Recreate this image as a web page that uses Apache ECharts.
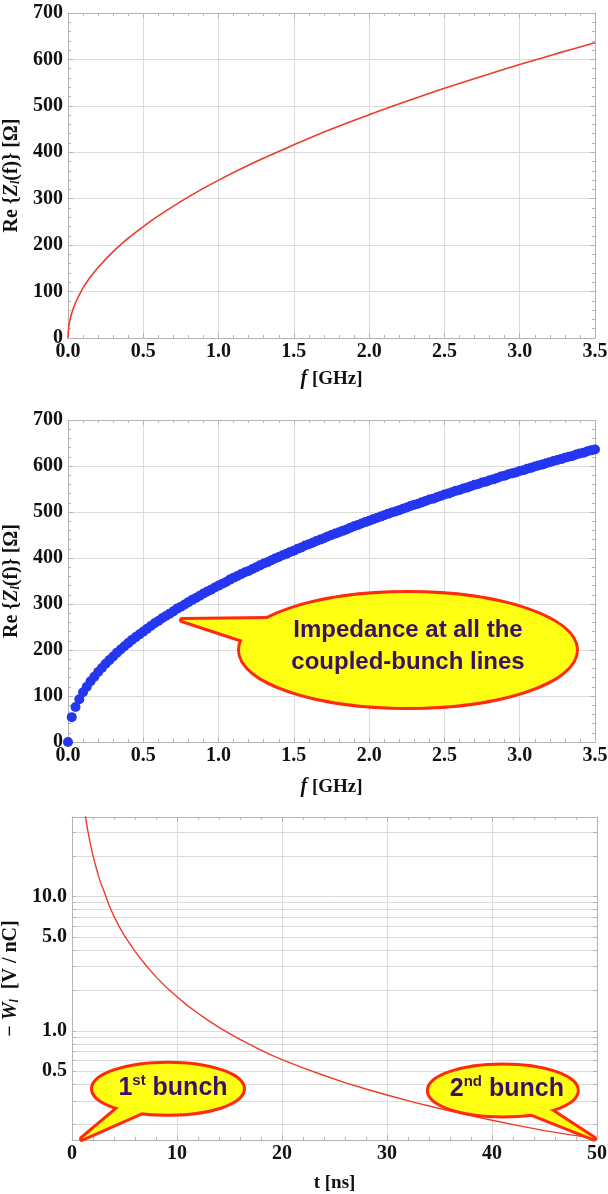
<!DOCTYPE html>
<html>
<head>
<meta charset="utf-8">
<script src="https://cdn.jsdelivr.net/npm/echarts@6/dist/echarts.min.js"></script>
<style>
  html, body { margin: 0; padding: 0; background: #ffffff; }
  #chart { width: 608px; height: 1194px; }
</style>
</head>
<body>
<div id="chart"></div>
<script>
// Resistive-wall impedance, continuous curve: frequency [GHz] and Re{Z_l} [Ohm]
const curveFreqGHz = [0, 0.005, 0.01, 0.025, 0.05, 0.1, 0.15, 0.2, 0.3, 0.4, 0.5, 0.6, 0.8, 1.0,
  1.25, 1.5, 1.75, 2.0, 2.25, 2.5, 2.75, 3.0, 3.25, 3.5];
const curveReZ = [0, 24, 34, 54, 76, 108, 132, 152, 186, 215, 240, 263, 304, 340,
  380, 416, 450, 481, 510, 538, 564, 589, 613, 636];

// Impedance sampled at the coupled-bunch lines
const lineFreqGHz = [
  0, 0.025, 0.05, 0.075, 0.1, 0.125, 0.15, 0.175, 0.2, 0.225,
  0.25, 0.275, 0.3, 0.325, 0.35, 0.375, 0.4, 0.425, 0.45, 0.475,
  0.5, 0.525, 0.55, 0.575, 0.6, 0.625, 0.65, 0.675, 0.7, 0.725,
  0.75, 0.775, 0.8, 0.825, 0.85, 0.875, 0.9, 0.925, 0.95, 0.975,
  1.0, 1.025, 1.05, 1.075, 1.1, 1.125, 1.15, 1.175, 1.2, 1.225,
  1.25, 1.275, 1.3, 1.325, 1.35, 1.375, 1.4, 1.425, 1.45, 1.475,
  1.5, 1.525, 1.55, 1.575, 1.6, 1.625, 1.65, 1.675, 1.7, 1.725,
  1.75, 1.775, 1.8, 1.825, 1.85, 1.875, 1.9, 1.925, 1.95, 1.975,
  2.0, 2.025, 2.05, 2.075, 2.1, 2.125, 2.15, 2.175, 2.2, 2.225,
  2.25, 2.275, 2.3, 2.325, 2.35, 2.375, 2.4, 2.425, 2.45, 2.475,
  2.5, 2.525, 2.55, 2.575, 2.6, 2.625, 2.65, 2.675, 2.7, 2.725,
  2.75, 2.775, 2.8, 2.825, 2.85, 2.875, 2.9, 2.925, 2.95, 2.975,
  3.0, 3.025, 3.05, 3.075, 3.1, 3.125, 3.15, 3.175, 3.2, 3.225,
  3.25, 3.275, 3.3, 3.325, 3.35, 3.375, 3.4, 3.425, 3.45, 3.475,
  3.5];
const lineReZ = [
  0, 54, 76, 93, 108, 120, 132, 142, 152, 161,
  170, 178, 186, 194, 201, 208, 215, 222, 228, 234,
  240, 246, 252, 258, 263, 269, 274, 279, 284, 290,
  294, 299, 304, 309, 313, 318, 323, 327, 331, 336,
  340, 344, 348, 353, 357, 361, 365, 369, 372, 376,
  380, 384, 388, 391, 395, 399, 402, 406, 409, 413,
  416, 420, 423, 427, 430, 433, 437, 440, 443, 447,
  450, 453, 456, 459, 462, 466, 469, 472, 475, 478,
  481, 484, 487, 490, 493, 496, 499, 501, 504, 507,
  510, 513, 516, 518, 521, 524, 527, 529, 532, 535,
  538, 540, 543, 546, 548, 551, 553, 556, 559, 561,
  564, 566, 569, 571, 574, 577, 579, 582, 584, 586,
  589, 591, 594, 596, 599, 601, 603, 606, 608, 611,
  613, 615, 618, 620, 622, 625, 627, 629, 632, 634,
  636];

// Wake potential -W_l [V/nC] against time [ns]
const wakeTimeNs = [1.2, 1.4, 1.6, 1.8, 2, 2.25, 2.5, 2.75, 3, 3.5, 4, 4.5, 5, 5.5, 6, 7, 8, 9, 10,
  11, 12, 13, 14, 15, 16, 17, 18, 19, 20, 22, 24, 26, 28, 30, 32.5, 35, 37.5, 40, 42.5, 45, 47.5, 50];
const wakeVperNC = [43.3, 34.4, 28.1, 23.6, 20.1, 16.9, 14.4, 12.5, 11.2, 8.7, 7.1, 5.96, 5.09, 4.45, 3.90, 3.10, 2.52, 2.10, 1.79,
  1.54, 1.35, 1.19, 1.06, 0.953, 0.862, 0.785, 0.718, 0.660, 0.61, 0.53, 0.465, 0.412, 0.369, 0.333, 0.295, 0.264, 0.238, 0.216, 0.197, 0.181, 0.168, 0.158];

// Log-axis grid values and labelled values
const wakeGridValues = [0.2, 0.3, 0.4, 0.5, 0.6, 0.7, 0.8, 0.9, 1, 2, 3, 4, 5, 6, 7, 8, 9, 10, 20, 30];
const wakeLabelValues = [0.5, 1, 5, 10];

// Callout texts
const calloutImpedance = 'Impedance at all the\ncoupled-bunch lines';
const calloutFirst = ['1', 'st', ' bunch'];
const calloutSecond = ['2', 'nd', ' bunch'];

const SERIF = '"Liberation Serif", "DejaVu Serif", serif';
const SANS = '"Liberation Sans", Arial, sans-serif';
const frameColor = '#b4b4b4';
const gridColor = '#dcdcdc';
const labelStyle = { color: '#111', fontFamily: SERIF, fontWeight: 'bold', fontSize: 20 };

const chart = echarts.init(document.getElementById('chart'), null, { renderer: 'canvas' });

function zip(xs, ys) { return xs.map((x, i) => [x, ys[i]]); }

function bottomAxis(gridIndex, min, max, interval, fmt, nameRich, name, nameGap) {
  return {
    type: 'value', gridIndex, position: 'bottom', min, max, interval,
    name, nameLocation: 'middle', nameGap,
    nameTextStyle: { ...labelStyle, fontSize: 19, rich: nameRich },
    axisLine: { show: true, onZero: false, lineStyle: { color: frameColor, width: 1 } },
    axisTick: { show: true, inside: true, length: 5, lineStyle: { color: frameColor } },
    minorTick: { show: true, splitNumber: 5, length: 3, lineStyle: { color: frameColor } },
    axisLabel: { ...labelStyle, margin: 4, formatter: fmt, showMinLabel: true, showMaxLabel: true },
    splitLine: { show: true, lineStyle: { color: gridColor, width: 1 } },
    minorSplitLine: { show: false }
  };
}
function topAxis(gridIndex, min, max, interval) {
  return {
    type: 'value', gridIndex, position: 'top', min, max, interval,
    axisLine: { show: true, onZero: false, lineStyle: { color: frameColor, width: 1 } },
    axisTick: { show: true, inside: true, length: 5, lineStyle: { color: frameColor } },
    minorTick: { show: true, splitNumber: 5, length: 3, lineStyle: { color: frameColor } },
    axisLabel: { show: false }, splitLine: { show: false }
  };
}
function leftAxis(gridIndex, name, nameRich, nameGap) {
  return {
    type: 'value', gridIndex, position: 'left', min: 0, max: 700, interval: 100,
    name, nameLocation: 'middle', nameGap, nameRotate: 90,
    nameTextStyle: { ...labelStyle, fontSize: 20, rich: nameRich },
    axisLine: { show: true, onZero: false, lineStyle: { color: frameColor, width: 1 } },
    axisTick: { show: true, inside: true, length: 5, lineStyle: { color: frameColor } },
    minorTick: { show: true, splitNumber: 5, length: 3, lineStyle: { color: frameColor } },
    axisLabel: { ...labelStyle, margin: 5, showMinLabel: true, showMaxLabel: true },
    splitLine: { show: true, lineStyle: { color: gridColor, width: 1 } }
  };
}
function rightAxis(gridIndex) {
  return {
    type: 'value', gridIndex, position: 'right', min: 0, max: 700, interval: 100,
    axisLine: { show: true, onZero: false, lineStyle: { color: frameColor, width: 1 } },
    axisTick: { show: true, inside: true, length: 5, lineStyle: { color: frameColor } },
    minorTick: { show: true, splitNumber: 5, length: 3, lineStyle: { color: frameColor } },
    axisLabel: { show: false }, splitLine: { show: false }
  };
}

// Plain text takes the axis-name style; only italic and subscript parts are tokens
const reZName = 'Re {{i|Z}{s|l}(f)} [Ω]';
const nameRich = {
  i: { fontFamily: SERIF, fontWeight: 'bold', fontStyle: 'italic', fontSize: 20, color: '#111' },
  s: { fontFamily: SERIF, fontWeight: 'bold', fontStyle: 'italic', fontSize: 12, color: '#111', verticalAlign: 'bottom', padding: [6, 0, 0, 0] }
};
const freqName = '{i|f} [GHz]';
const timeName = 't [ns]';
const wakeName = '− {i|W}{s|l}  [V / nC]';

const freqFmt = v => v.toFixed(1);

const option = {
  animation: false,
  backgroundColor: '#ffffff',
  grid: [
    { left: 68, top: 13, width: 527, height: 325, outerBoundsMode: 'none' },
    { left: 68, top: 420, width: 527, height: 322, outerBoundsMode: 'none' },
    { left: 72, top: 817, width: 525, height: 323, outerBoundsMode: 'none' }
  ],
  xAxis: [
    bottomAxis(0, 0, 3.5, 0.5, freqFmt, nameRich, freqName, 31),
    topAxis(0, 0, 3.5, 0.5),
    bottomAxis(1, 0, 3.5, 0.5, freqFmt, nameRich, freqName, 35),
    topAxis(1, 0, 3.5, 0.5),
    bottomAxis(2, 0, 50, 10, v => String(v), nameRich, timeName, 34),
    topAxis(2, 0, 50, 10)
  ],
  yAxis: [
    leftAxis(0, reZName, nameRich, 40),
    rightAxis(0),
    leftAxis(1, reZName, nameRich, 40),
    rightAxis(1),
    {
      type: 'log', logBase: 10, gridIndex: 2, position: 'left', min: 0.154, max: 39,
      name: wakeName, nameLocation: 'middle', nameGap: 43, nameRotate: 90,
      nameTextStyle: { ...labelStyle, fontSize: 20, rich: nameRich },
      axisLine: { show: true, onZero: false, lineStyle: { color: frameColor, width: 1 } },
      axisTick: { show: true, inside: true, length: 4, customValues: wakeGridValues, lineStyle: { color: frameColor } },
      axisLabel: { ...labelStyle, margin: 5, customValues: wakeLabelValues, formatter: v => Number(v).toFixed(1) },
      splitLine: { show: true, lineStyle: { color: gridColor, width: 1 } }
    },
    {
      type: 'log', logBase: 10, gridIndex: 2, position: 'right', min: 0.154, max: 39,
      axisLine: { show: true, onZero: false, lineStyle: { color: frameColor, width: 1 } },
      axisTick: { show: true, inside: true, length: 4, customValues: wakeGridValues, lineStyle: { color: frameColor } },
      axisLabel: { show: false }, splitLine: { show: false }
    }
  ],
  series: [
    {
      type: 'line', xAxisIndex: 0, yAxisIndex: 0, data: zip(curveFreqGHz, curveReZ),
      smooth: 0.35, showSymbol: false, lineStyle: { color: '#ee3b2b', width: 1.6 }
    },
    {
      type: 'scatter', xAxisIndex: 2, yAxisIndex: 2, data: zip(lineFreqGHz, lineReZ),
      symbol: 'circle', symbolSize: 10, itemStyle: { color: '#2436f0', opacity: 1 }
    },
    {
      type: 'line', xAxisIndex: 4, yAxisIndex: 4, data: zip(wakeTimeNs, wakeVperNC),
      smooth: false, showSymbol: false, clip: true, lineStyle: { color: '#ee3b2b', width: 1.4 }
    }
  ]
};
chart.setOption(option);

// Speech-bubble callouts anchored on data coordinates
const bubbleRed = '#ff2a0a';
const bubbleYellow = '#ffff14';
const textPurple = '#3a1260';

function bubble(gridIndex, anchor, center, rx, ry, baseA, baseB, textEl, zBase) {
  const tip = chart.convertToPixel({ gridIndex }, anchor);
  const cx = tip[0] + center[0], cy = tip[1] + center[1];
  const pts = [tip, [tip[0] + baseA[0], tip[1] + baseA[1]], [cx, cy], [tip[0] + baseB[0], tip[1] + baseB[1]]];
  const outline = { fill: bubbleYellow, stroke: bubbleRed, lineWidth: 6, lineJoin: 'round' };
  return [
    { type: 'ellipse', z: zBase, shape: { cx, cy, rx, ry }, style: outline },
    { type: 'polygon', z: zBase + 1, shape: { points: pts }, style: outline },
    { type: 'ellipse', z: zBase + 2, shape: { cx, cy, rx, ry }, style: { fill: bubbleYellow } },
    { type: 'polygon', z: zBase + 3, shape: { points: pts }, style: { fill: bubbleYellow } },
    { type: 'text', z: zBase + 4, x: cx + textEl.dx, y: cy + textEl.dy, style: textEl.style }
  ];
}

const supRich = {
  a: { fontFamily: SANS, fontWeight: 'bold', fontSize: 25, fill: textPurple, lineHeight: 30 },
  b: { fontFamily: SANS, fontWeight: 'bold', fontSize: 15, fill: textPurple, verticalAlign: 'top', lineHeight: 15 }
};
function supText(parts) {
  return '{a|' + parts[0] + '}{b|' + parts[1] + '}{a|' + parts[2] + '}';
}

const graphics = [].concat(
  bubble(1, [0.757, 265], [226, 30], 168, 57, [85, -1], [61, 20], {
    dx: 0, dy: -4,
    style: {
      text: calloutImpedance, fill: textPurple, font: 'bold 24px ' + SANS,
      lineHeight: 32, align: 'center', verticalAlign: 'middle'
    }
  }, 100),
  bubble(2, [0.95, 0.157], [86, -50], 75, 25, [38, -32], [61, -27], {
    dx: 5, dy: -1,
    style: { text: supText(calloutFirst), rich: supRich, align: 'center', verticalAlign: 'middle' }
  }, 110),
  bubble(2, [49.7, 0.158], [-91, -48], 74, 25, [-63, -25], [-43, -28], {
    dx: 4, dy: -1,
    style: { text: supText(calloutSecond), rich: supRich, align: 'center', verticalAlign: 'middle' }
  }, 120)
);
chart.setOption({ graphic: graphics });
</script>
</body>
</html>
